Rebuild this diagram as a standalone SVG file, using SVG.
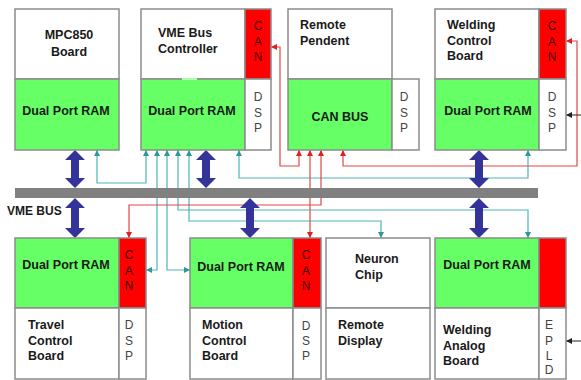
<svg xmlns="http://www.w3.org/2000/svg" width="581" height="380" viewBox="0 0 581 380">
<defs>
<style>
.w{fill:#fff;stroke:#8c8c8c;stroke-width:1.5}
.g{fill:#66ff66;stroke:#8c8c8c;stroke-width:1.5}
.r{fill:#ff0000;stroke:#8c8c8c;stroke-width:1.5}
.t{font-family:"Liberation Sans",Arial,sans-serif;font-weight:bold;font-size:12.5px;fill:#1a1a1a}
.tm{text-anchor:middle}
.c{font-family:"Liberation Sans",Arial,sans-serif;font-size:12px;fill:#3a0000;text-anchor:middle}
.d{font-family:"Liberation Sans",Arial,sans-serif;font-size:12px;fill:#444;text-anchor:middle}
.tl{fill:none;stroke:#4fb5b5;stroke-width:1.2;marker-start:url(#ta);marker-end:url(#ta)}
.rd{fill:none;stroke:#e04848;stroke-width:1.2;marker-start:url(#ra);marker-end:url(#ra)}
.bk{fill:none;stroke:#222;stroke-width:1;marker-end:url(#ka)}
.ba{fill:#333399}
</style>
<marker id="ta" markerUnits="userSpaceOnUse" markerWidth="6" markerHeight="6" refX="6" refY="3" orient="auto-start-reverse"><path d="M0,0 L6,3 L0,6 z" fill="#2a9a9a"/></marker>
<marker id="ra" markerUnits="userSpaceOnUse" markerWidth="6" markerHeight="6" refX="6" refY="3" orient="auto-start-reverse"><path d="M0,0 L6,3 L0,6 z" fill="#e02020"/></marker>
<marker id="ka" markerUnits="userSpaceOnUse" markerWidth="6" markerHeight="6" refX="6" refY="3" orient="auto"><path d="M0,0 L6,3 L0,6 z" fill="#222"/></marker>
</defs>

<g id="connectors">
<path class="tl" d="M97,150 V183 H146 V150"/>
<path class="tl" d="M157,150 V270 H146"/>
<path class="tl" d="M167,150 V270 H190"/>
<path class="tl" d="M178,150 V210 H528 V238"/>
<path class="tl" d="M189,150 V221 H381 V238"/>
<path class="tl" d="M239,150 V178 H528 V150"/>
<path class="rd" d="M299,150 V166 H280 V47 H271"/>
<path class="rd" d="M310,150 V238"/>
<path class="rd" d="M321,150 V205 H129 V238"/>
<path class="rd" d="M343,150 V166 H577 V41 H566"/>
<path class="bk" d="M581,115 H566"/>
<path class="bk" d="M581,341 H566"/>
</g>

<g id="vme-bus">
<rect x="15" y="188" width="523" height="10" fill="#808080"/>
<text class="t" x="7" y="215" style="font-size:12px">VME BUS</text>
</g>

<g id="bus-arrows" class="ba">
<path d="M75,150 L85,160 L79,160 L79,178 L85,178 L75,188 L65,178 L71,178 L71,160 L65,160 Z"/>
<path d="M206,150 L216,160 L210,160 L210,178 L216,178 L206,188 L196,178 L202,178 L202,160 L196,160 Z"/>
<path d="M479,150 L489,160 L483,160 L483,178 L489,178 L479,188 L469,178 L475,178 L475,160 L469,160 Z"/>
<path d="M75,198 L85,208 L79,208 L79,228 L85,228 L75,238 L65,228 L71,228 L71,208 L65,208 Z"/>
<path d="M250,198 L260,208 L254,208 L254,228 L260,228 L250,238 L240,228 L246,228 L246,208 L240,208 Z"/>
<path d="M479,198 L489,208 L483,208 L483,228 L489,228 L479,238 L469,228 L475,228 L475,208 L469,208 Z"/>
</g>

<g id="mpc850">
<rect class="w" x="15" y="9" width="104" height="70"/>
<rect class="g" x="15" y="79" width="104" height="71"/>
<text class="t tm" x="69" y="39">MPC850</text>
<text class="t tm" x="69" y="56">Board</text>
<text class="t tm" x="66" y="115">Dual Port RAM</text>
</g>

<g id="vme-controller">
<rect class="w" x="141" y="9" width="104" height="70"/>
<rect class="g" x="141" y="79" width="104" height="71"/>
<line x1="182" y1="79" x2="197" y2="79" stroke="#aaffaa" stroke-width="2"/>
<rect class="r" x="245" y="9" width="26" height="70"/>
<rect class="w" x="245" y="79" width="26" height="71"/>
<text class="t" x="158" y="37">VME Bus</text>
<text class="t" x="158" y="53">Controller</text>
<text class="t tm" x="192" y="115">Dual Port RAM</text>
<text class="c" x="258" y="30">C</text><text class="c" x="258" y="46">A</text><text class="c" x="258" y="61">N</text>
<text class="d" x="258" y="101">D</text><text class="d" x="258" y="117">S</text><text class="d" x="258" y="132">P</text>
</g>

<g id="remote-pendent">
<rect class="w" x="288" y="9" width="104" height="70"/>
<rect class="g" x="288" y="79" width="104" height="71"/>
<rect class="w" x="392" y="79" width="27" height="71"/>
<text class="t" x="300" y="29">Remote</text>
<text class="t" x="300" y="45">Pendent</text>
<text class="t tm" x="340" y="121">CAN BUS</text>
<text class="d" x="404" y="101">D</text><text class="d" x="404" y="117">S</text><text class="d" x="404" y="132">P</text>
</g>

<g id="welding-control">
<rect class="w" x="435" y="9" width="104" height="70"/>
<rect class="g" x="435" y="79" width="104" height="71"/>
<rect class="r" x="539" y="9" width="27" height="70"/>
<rect class="w" x="539" y="79" width="27" height="71"/>
<text class="t" x="447" y="29">Welding</text>
<text class="t" x="447" y="45">Control</text>
<text class="t" x="447" y="60">Board</text>
<text class="t tm" x="488" y="115">Dual Port RAM</text>
<text class="c" x="552" y="30">C</text><text class="c" x="552" y="46">A</text><text class="c" x="552" y="61">N</text>
<text class="d" x="552" y="101">D</text><text class="d" x="552" y="117">S</text><text class="d" x="552" y="132">P</text>
</g>

<g id="travel-control">
<rect class="g" x="15" y="238" width="104" height="70"/>
<rect class="w" x="15" y="308" width="104" height="71"/>
<rect class="r" x="119" y="238" width="27" height="70"/>
<rect class="w" x="119" y="308" width="27" height="71"/>
<text class="t tm" x="66" y="269">Dual Port RAM</text>
<text class="t" x="28" y="329">Travel</text>
<text class="t" x="28" y="345">Control</text>
<text class="t" x="28" y="360">Board</text>
<text class="c" x="129" y="259">C</text><text class="c" x="129" y="275">A</text><text class="c" x="129" y="290">N</text>
<text class="d" x="129" y="329">D</text><text class="d" x="129" y="345">S</text><text class="d" x="129" y="360">P</text>
</g>

<g id="motion-control">
<rect class="g" x="190" y="238" width="103" height="70"/>
<rect class="w" x="190" y="308" width="103" height="71"/>
<rect class="r" x="293" y="238" width="28" height="70"/>
<rect class="w" x="293" y="308" width="28" height="71"/>
<text class="t tm" x="241" y="271">Dual Port RAM</text>
<text class="t" x="202" y="329">Motion</text>
<text class="t" x="202" y="345">Control</text>
<text class="t" x="202" y="360">Board</text>
<text class="c" x="306" y="259">C</text><text class="c" x="306" y="275">A</text><text class="c" x="306" y="290">N</text>
<text class="d" x="306" y="330">D</text><text class="d" x="306" y="345">S</text><text class="d" x="306" y="360">P</text>
</g>

<g id="neuron-chip">
<rect class="w" x="326" y="238" width="104" height="70"/>
<rect class="w" x="326" y="308" width="104" height="71"/>
<text class="t" x="355" y="263">Neuron</text>
<text class="t" x="355" y="279">Chip</text>
<text class="t" x="338" y="329">Remote</text>
<text class="t" x="338" y="345">Display</text>
</g>

<g id="welding-analog">
<rect class="g" x="435" y="238" width="104" height="70"/>
<rect class="w" x="435" y="308" width="104" height="71"/>
<rect class="r" x="539" y="238" width="27" height="70"/>
<rect class="w" x="539" y="308" width="27" height="71"/>
<text class="t tm" x="487" y="269">Dual Port RAM</text>
<text class="t" x="443" y="334">Welding</text>
<text class="t" x="443" y="350">Analog</text>
<text class="t" x="443" y="365">Board</text>
<text class="d" x="549" y="329">E</text><text class="d" x="549" y="345">P</text><text class="d" x="549" y="360">L</text><text class="d" x="549" y="374">D</text>
</g>
</svg>
